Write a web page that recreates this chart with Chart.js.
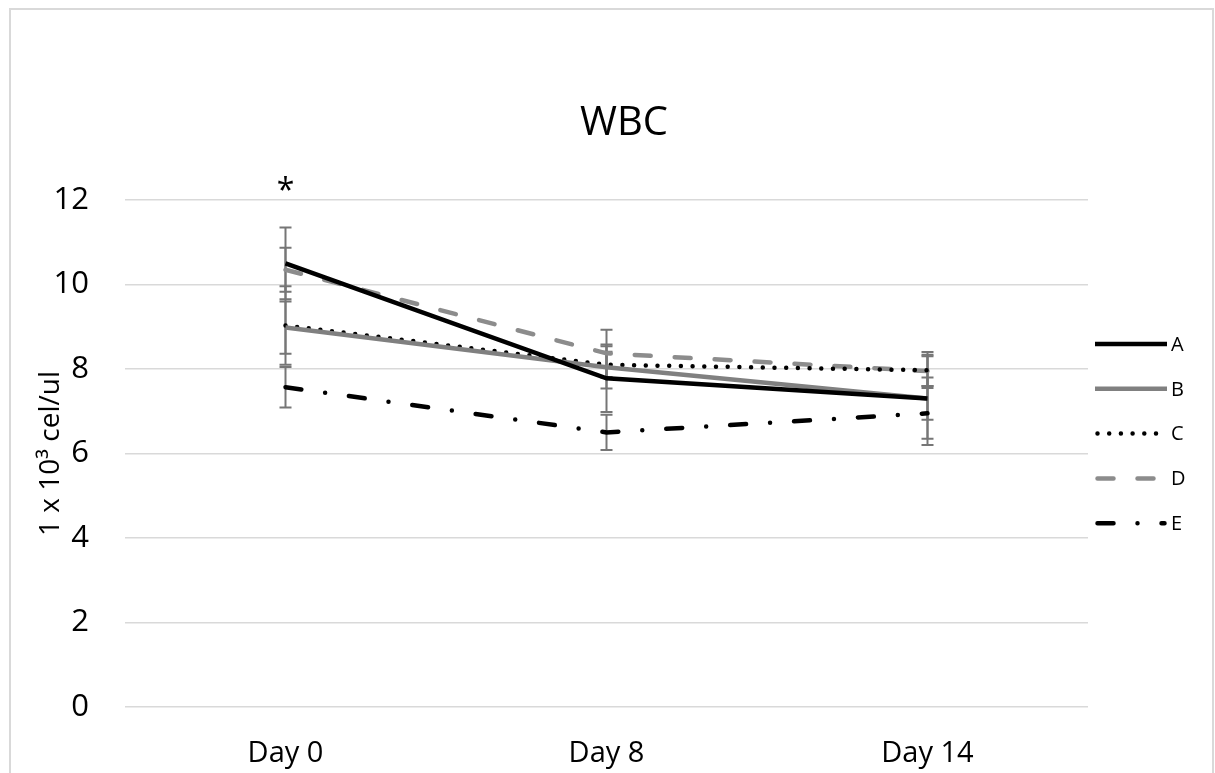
<!DOCTYPE html>
<html>
<head>
<meta charset="utf-8">
<script src="https://cdn.jsdelivr.net/npm/chart.js@4/dist/chart.umd.min.js"></script>
<style>
  html, body { margin: 0; padding: 0; background: #fff; }
  #wrap { position: absolute; left: 0; top: 0; width: 1215px; height: 773px; }
</style>
</head>
<body>
<div id="wrap"><canvas id="c" width="1215" height="773"></canvas></div>
<script>
const categories = ['Day 0', 'Day 8', 'Day 14'];
const seriesNames = ['A', 'B', 'C', 'D', 'E'];
const valuesA = [10.5, 7.78, 7.3];
const valuesB = [8.98, 8.04, 7.3];
const valuesC = [9.03, 8.1, 7.97];
const valuesD = [10.35, 8.37, 7.95];
const valuesE = [7.57, 6.5, 6.95];
const errA = [0.85, 0.8, 1.1];
const errB = [0.62, 0.5, 0.5];
const errC = [0.93, 0.31, 0.37];
const errD = [0.52, 0.56, 0.35];
const errE = [0.48, 0.42, 0.6];
const yTicks = [0, 2, 4, 6, 8, 10, 12];
const titleText = 'WBC';
const yTitle = '1 x 10\u00B3 cel/ul';
const significance = [{ index: 0, label: '*' }];

const FONT = "'Open Sans', 'DejaVu Sans', sans-serif";

const datasets = [
  { label: seriesNames[0], data: valuesA, err: errA, borderColor: '#000000', borderDash: [], borderCapStyle: 'butt' },
  { label: seriesNames[1], data: valuesB, err: errB, borderColor: '#808080', borderDash: [], borderCapStyle: 'butt' },
  { label: seriesNames[2], data: valuesC, err: errC, borderColor: '#000000', borderDash: [0, 11.7], borderCapStyle: 'round' },
  { label: seriesNames[3], data: valuesD, err: errD, borderColor: '#8c8c8c', borderDash: [16, 24], borderCapStyle: 'round' },
  { label: seriesNames[4], data: valuesE, err: errE, borderColor: '#000000', borderDash: [16, 24, 0, 24], borderCapStyle: 'round' }
].map(d => Object.assign({
  borderWidth: 4.5,
  pointRadius: 0,
  pointHoverRadius: 0,
  tension: 0,
  fill: false,
  backgroundColor: d.borderColor
}, d));

const framePlugin = {
  id: 'frame',
  beforeDraw(chart) {
    const ctx = chart.ctx;
    ctx.save();
    ctx.fillStyle = '#ffffff';
    ctx.fillRect(0, 0, chart.width, chart.height);
    ctx.strokeStyle = '#d9d9d9';
    ctx.lineWidth = 2;
    ctx.strokeRect(10, 9, 1203, 800);
    ctx.fillStyle = '#000';
    ctx.font = '40px ' + FONT;
    ctx.textAlign = 'center';
    ctx.textBaseline = 'alphabetic';
    ctx.fillText(titleText, 624, 135);
    ctx.restore();
  }
};

const errorBarPlugin = {
  id: 'errorBars',
  beforeDatasetsDraw(chart) {
    const ctx = chart.ctx;
    const xs = chart.scales.x, ys = chart.scales.y;
    ctx.save();
    ctx.strokeStyle = '#767676';
    ctx.lineWidth = 2;
    ctx.setLineDash([]);
    chart.data.datasets.forEach(ds => {
      ds.data.forEach((v, i) => {
        const e = ds.err[i];
        const x = xs.getPixelForValue(i);
        const yt = ys.getPixelForValue(v + e);
        const yb = ys.getPixelForValue(v - e);
        ctx.beginPath();
        ctx.moveTo(x, yt); ctx.lineTo(x, yb);
        ctx.moveTo(x - 6, yt); ctx.lineTo(x + 6, yt);
        ctx.moveTo(x - 6, yb); ctx.lineTo(x + 6, yb);
        ctx.stroke();
      });
    });
    ctx.restore();
  },
  afterDatasetsDraw(chart) {
    const ctx = chart.ctx;
    const xs = chart.scales.x, ys = chart.scales.y;
    ctx.save();
    ctx.fillStyle = '#000';
    ctx.font = '32px ' + FONT;
    ctx.textAlign = 'center';
    ctx.textBaseline = 'middle';
    significance.forEach(s => {
      ctx.fillText(s.label, xs.getPixelForValue(s.index), ys.getPixelForValue(12) - 8);
    });
    ctx.restore();
  }
};

const legendPlugin = {
  id: 'customLegend',
  afterDraw(chart) {
    const ctx = chart.ctx;
    const x0 = 1095, x1 = 1167;
    const yStart = 344, step = 44.8;
    ctx.save();
    chart.data.datasets.forEach((ds, i) => {
      const y = yStart + i * step;
      ctx.beginPath();
      ctx.strokeStyle = ds.borderColor;
      ctx.lineWidth = ds.borderWidth;
      ctx.lineCap = ds.borderCapStyle;
      ctx.setLineDash(ds.borderDash);
      ctx.moveTo(x0 + (ds.borderCapStyle === 'round' ? 2.5 : 0), y);
      ctx.lineTo(x1 - (ds.borderCapStyle === 'round' ? 2.5 : 0), y);
      ctx.stroke();
      ctx.setLineDash([]);
      ctx.fillStyle = '#000';
      ctx.font = '20px ' + FONT;
      ctx.textAlign = 'left';
      ctx.textBaseline = 'middle';
      ctx.fillText(ds.label, 1171, y + 1);
    });
    ctx.restore();
  }
};

new Chart(document.getElementById('c'), {
  type: 'line',
  data: { labels: categories, datasets },
  options: {
    responsive: false,
    animation: false,
    events: [],
    layout: { padding: { left: 10, right: 127, top: 200, bottom: 0 } },
    plugins: {
      legend: { display: false },
      tooltip: { enabled: false },
      title: { display: false }
    },
    scales: {
      x: {
        offset: true,
        grid: { display: false, drawTicks: false },
        border: { display: false },
        ticks: { color: '#000', padding: 29, font: { family: FONT, size: 29 } },
        afterFit(scale) { scale.height = 66; }
      },
      y: {
        min: 0, max: 12,
        afterBuildTicks(scale) { scale.ticks = yTicks.map(v => ({ value: v })); },
        grid: { color: '#d9d9d9', lineWidth: 1.5, drawTicks: false },
        border: { display: false },
        ticks: { color: '#000', padding: 36, font: { family: FONT, size: 31 } },
        title: {
          display: true,
          text: yTitle,
          color: '#000',
          font: { family: FONT, size: 28, lineHeight: 1.2 },
          padding: { top: 24, bottom: 0 }
        },
        afterFit(scale) { scale.width = 115; }
      }
    }
  },
  plugins: [framePlugin, errorBarPlugin, legendPlugin]
});
</script>
</body>
</html>
